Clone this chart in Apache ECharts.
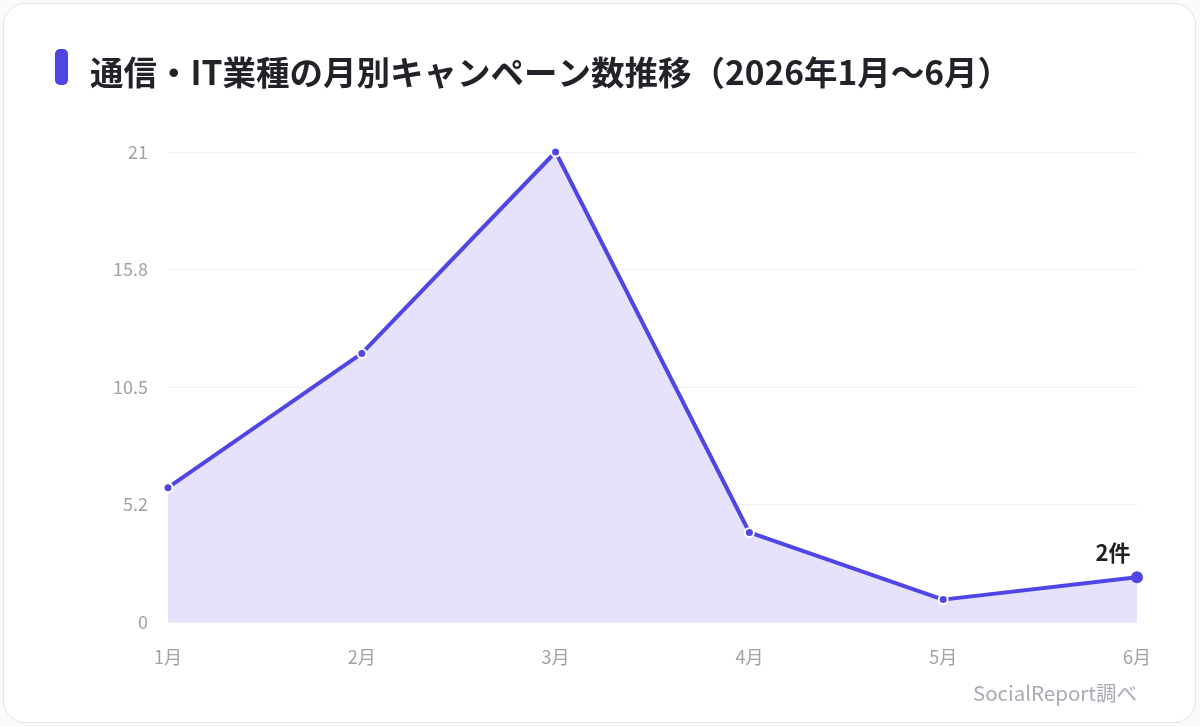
<!DOCTYPE html>
<html>
<head>
<meta charset="utf-8">
<script src="https://cdn.jsdelivr.net/npm/echarts@6/dist/echarts.min.js"></script>
<style>
  html, body { margin: 0; padding: 0; background: #fafafb; }
  #card {
    position: absolute; left: 3px; top: 3px; width: 1191px; height: 718px;
    background: #fff; border: 1px solid #e4e4e8; border-radius: 22px;
  }
  #main { position: absolute; left: 0; top: 0; width: 1200px; height: 726px; }
</style>
</head>
<body>
<div id="card"></div>
<div id="main"></div>
<script>
// データ
const months = ['1月', '2月', '3月', '4月', '5月', '6月'];
const campaigns = [6, 12, 21, 4, 1, 2];
const yTickLabels = ['0', '5.2', '10.5', '15.8', '21'];

const chart = echarts.init(document.getElementById('main'));
const font = '"Noto Sans CJK JP", "Noto Sans", sans-serif';

const lastIdx = campaigns.length - 1;
const seriesData = campaigns.map((v, i) => {
  if (i !== lastIdx) return v;
  return {
    value: v,
    symbolSize: 12,
    itemStyle: { borderWidth: 0 },
    label: {
      show: true, position: 'top', distance: 8,
      formatter: '{c}件', color: '#1f1f24', fontSize: 22, fontWeight: 'bold', fontFamily: font,
      offset: [-24, 0]
    }
  };
});

const option = {
  animation: false,
  textStyle: { fontFamily: font },
  graphic: [
    { type: 'rect', left: 55, top: 49, shape: { width: 13, height: 36, r: 5 }, style: { fill: '#4f46e5' } },
    {
      type: 'text', left: 90, top: 56,
      style: { text: '通信・IT業種の月別キャンペーン数推移（2026年1月〜6月）', fill: '#222228', font: 'bold 33.5px ' + font }
    },
    {
      type: 'text', right: 63, top: 683,
      style: { text: 'SocialReport調べ', fill: '#aaaab4', font: '20.5px ' + font }
    }
  ],
  grid: { left: 168, right: 63, top: 152, bottom: 104 },
  xAxis: {
    type: 'category',
    data: months,
    boundaryGap: false,
    axisLine: { show: false },
    axisTick: { show: false },
    axisLabel: { color: '#a0a0a8', fontSize: 18, margin: 26 },
    splitLine: { show: false }
  },
  yAxis: {
    type: 'value',
    min: 0, max: 21, interval: 5.25,
    axisLine: { show: false },
    axisTick: { show: false },
    axisLabel: {
      color: '#a0a0a8', fontSize: 18, margin: 20,
      formatter: (v) => yTickLabels[Math.round(v / 5.25)]
    },
    splitLine: { lineStyle: { color: '#efeff3', width: 1 } }
  },
  series: [{
    type: 'line',
    data: seriesData,
    symbol: 'circle',
    symbolSize: 9,
    lineStyle: { color: '#4f46e5', width: 4 },
    itemStyle: { color: '#4f46e5', borderColor: '#fff', borderWidth: 2 },
    areaStyle: { color: '#e6e2fc', opacity: 1 }
  }]
};

chart.setOption(option);
window.addEventListener('resize', () => chart.resize());
</script>
</body>
</html>
